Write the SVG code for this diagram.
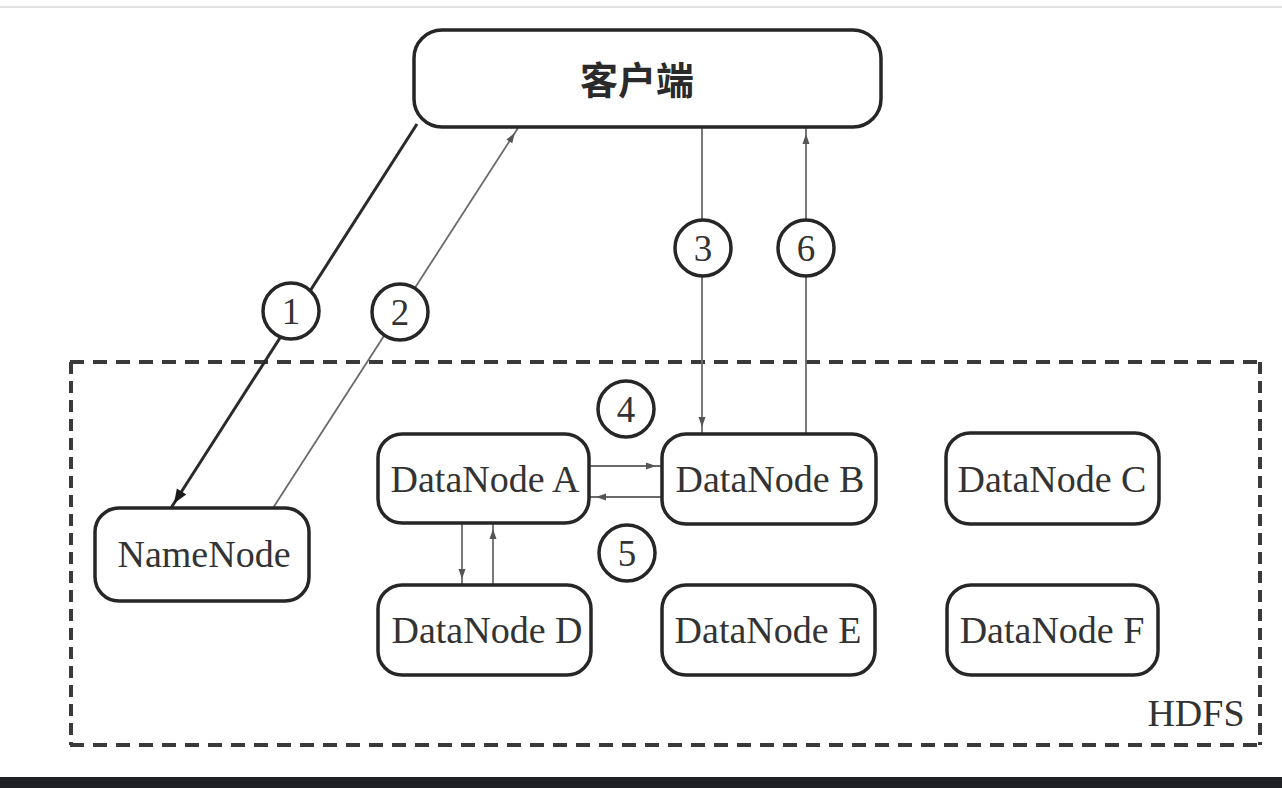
<svg xmlns="http://www.w3.org/2000/svg" width="1282" height="788" viewBox="0 0 1282 788">
<style>
.box{fill:#fff;stroke:#262626;stroke-width:3.5}
.lbl{font-family:"Liberation Serif","Times New Roman",serif;font-size:38px;fill:#333;text-anchor:middle}
.num{font-family:"Liberation Serif","Times New Roman",serif;font-size:37px;fill:#333;text-anchor:middle}
.circ{fill:#fff;stroke:#262626;stroke-width:3.5}
.thin{stroke:#6a6a6a;stroke-width:1.8;fill:none}
.thick{stroke:#2a2a2a;stroke-width:3;fill:none}
.dh{stroke:#3a3a3a;stroke-width:4;stroke-dasharray:14 9;fill:none}
.dv{stroke:#3a3a3a;stroke-width:4;stroke-dasharray:12 7;fill:none}
</style>
<defs>
<marker id="ah" viewBox="0 0 10 10" refX="16" refY="5" markerWidth="10" markerHeight="10" markerUnits="userSpaceOnUse" orient="auto" overflow="visible">
<path d="M0,1.5 L10,5 L0,8.5 Z" fill="#555"/>
</marker>
<marker id="ahk" viewBox="0 0 10 10" refX="14" refY="5" markerWidth="14" markerHeight="14" markerUnits="userSpaceOnUse" orient="auto" overflow="visible">
<path d="M0,1 L10,5 L0,9 Z" fill="#1a1a1a"/>
</marker>
</defs>
<rect x="0" y="0" width="1282" height="788" fill="#fff"/>
<line x1="0" y1="7" x2="1282" y2="7" stroke="#e2e2e2" stroke-width="2"/>
<rect x="0" y="777" width="1282" height="11" fill="#202124"/>

<g id="hdfs">
<line class="dh" x1="70" y1="362" x2="1262" y2="362"/>
<line class="dh" x1="70" y1="745" x2="1262" y2="745"/>
<line class="dv" x1="71" y1="362" x2="71" y2="745"/>
<line class="dv" x1="1260" y1="362" x2="1260" y2="745"/>
<text class="lbl" x="1196" y="726">HDFS</text>
</g>

<g id="connectors">
<line class="thick" x1="417" y1="124" x2="171" y2="508" marker-end="url(#ahk)"/>
<line class="thin" x1="273" y1="508" x2="518" y2="128" marker-end="url(#ah)"/>
<line class="thin" x1="702" y1="128" x2="702" y2="433" marker-end="url(#ah)"/>
<line class="thin" x1="806" y1="433" x2="806" y2="128" marker-end="url(#ah)"/>
<line class="thin" x1="590" y1="466" x2="662" y2="466" marker-end="url(#ah)"/>
<line class="thin" x1="662" y1="497" x2="590" y2="497" marker-end="url(#ah)"/>
<line class="thin" x1="462" y1="523" x2="462" y2="585" marker-end="url(#ah)"/>
<line class="thin" x1="493" y1="585" x2="493" y2="523" marker-end="url(#ah)"/>
</g>

<g id="step1"><circle class="circ" cx="291" cy="311" r="28"/><text class="num" x="291" y="324">1</text></g>
<g id="step2"><circle class="circ" cx="400" cy="312" r="28"/><text class="num" x="400" y="325">2</text></g>
<g id="step3"><circle class="circ" cx="703" cy="248" r="28"/><text class="num" x="703" y="261">3</text></g>
<g id="step6"><circle class="circ" cx="806" cy="248" r="28"/><text class="num" x="806" y="261">6</text></g>
<g id="step4"><circle class="circ" cx="626" cy="409" r="28"/><text class="num" x="626" y="422">4</text></g>
<g id="step5"><circle class="circ" cx="627" cy="553" r="28"/><text class="num" x="627" y="566">5</text></g>

<g id="client">
<rect class="box" x="414" y="30" width="467" height="97" rx="28"/>
<text x="637" y="94" text-anchor="middle" font-family="'Noto Sans CJK SC',sans-serif" font-weight="bold" font-size="38" fill="#2a2a2a">客户端</text>
</g>
<g id="namenode">
<rect class="box" x="95" y="508" width="214" height="93" rx="24"/>
<text class="lbl" x="204" y="567">NameNode</text>
</g>
<g id="datanode-a">
<rect class="box" x="378" y="434" width="211" height="89" rx="24"/>
<text class="lbl" x="485" y="492">DataNode A</text>
</g>
<g id="datanode-b">
<rect class="box" x="662" y="434" width="214" height="90" rx="24"/>
<text class="lbl" x="770" y="492">DataNode B</text>
</g>
<g id="datanode-c">
<rect class="box" x="946" y="433" width="213" height="91" rx="24"/>
<text class="lbl" x="1052" y="492">DataNode C</text>
</g>
<g id="datanode-d">
<rect class="box" x="378" y="585" width="213" height="90" rx="24"/>
<text class="lbl" x="487" y="643">DataNode D</text>
</g>
<g id="datanode-e">
<rect class="box" x="662" y="585" width="213" height="90" rx="24"/>
<text class="lbl" x="768" y="643">DataNode E</text>
</g>
<g id="datanode-f">
<rect class="box" x="947" y="585" width="211" height="90" rx="24"/>
<text class="lbl" x="1052" y="643">DataNode F</text>
</g>
</svg>
